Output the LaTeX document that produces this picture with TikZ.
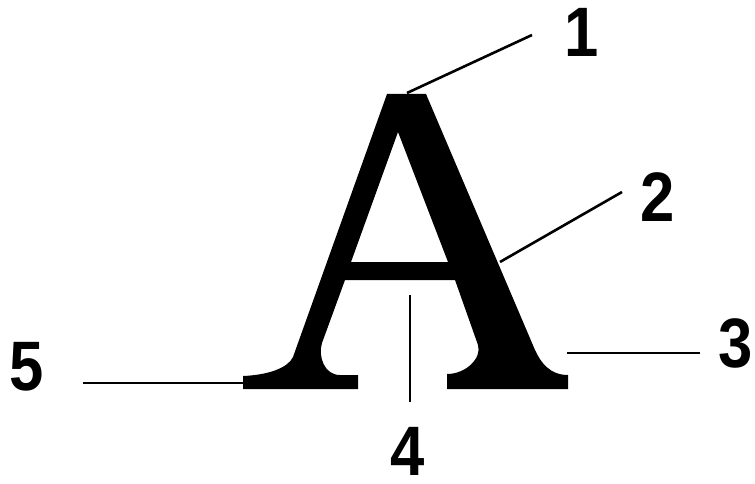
\documentclass[tikz,border=0pt]{standalone}
\usepackage{fontspec}
\setmainfont{Liberation Sans}
\begin{document}
\begin{tikzpicture}[x=1pt,y=-1pt,
  leader/.style={line width=2.6pt,black},
  numlabel/.style={inner sep=0pt,xscale=0.88,font=\fontsize{70}{70}\bfseries\selectfont}]
\useasboundingbox (0,0) rectangle (755,484);
% the letter A
\fill[black,even odd rule]
  (387,94) -- (426,94) -- (535,350)
  .. controls (541,363) and (550,375) .. (568,375)
  -- (568,389) -- (447,389) -- (447,374)
  .. controls (466,374) and (482,358) .. (478,345)
  -- (455,280) -- (345,280) -- (322,343)
  .. controls (318,356) and (324,375) .. (340,375)
  -- (358,375) -- (358,389) -- (243,389) -- (243,376)
  .. controls (268,375) and (288,368) .. (293,357)
  -- cycle
  (398,132) -- (448,262) -- (351,262) -- cycle;
% leader end points
\coordinate (a1) at (407,93);   \coordinate (b1) at (532,35);
\coordinate (a2) at (500,262);  \coordinate (b2) at (622,192);
\coordinate (a3) at (567,353);  \coordinate (b3) at (700,353);
\coordinate (a4) at (410,295);  \coordinate (b4) at (410,402);
\coordinate (a5) at (247,383);  \coordinate (b5) at (83,383);
% labels
\node[numlabel] (n1) at (582,32) {1};
\node[numlabel] (n2) at (658,197) {2};
\node[numlabel] (n3) at (736,343) {3};
\node[numlabel] (n4) at (408,451) {4};
\node[numlabel] (n5) at (27,367) {5};
% leaders
\draw[leader] (a1) -- (b1);
\draw[leader] (a2) -- (b2);
\draw[leader] (a3) -- (b3);
\draw[leader] (a4) -- (b4);
\draw[leader] (a5) -- (b5);
\end{tikzpicture}
\end{document}
